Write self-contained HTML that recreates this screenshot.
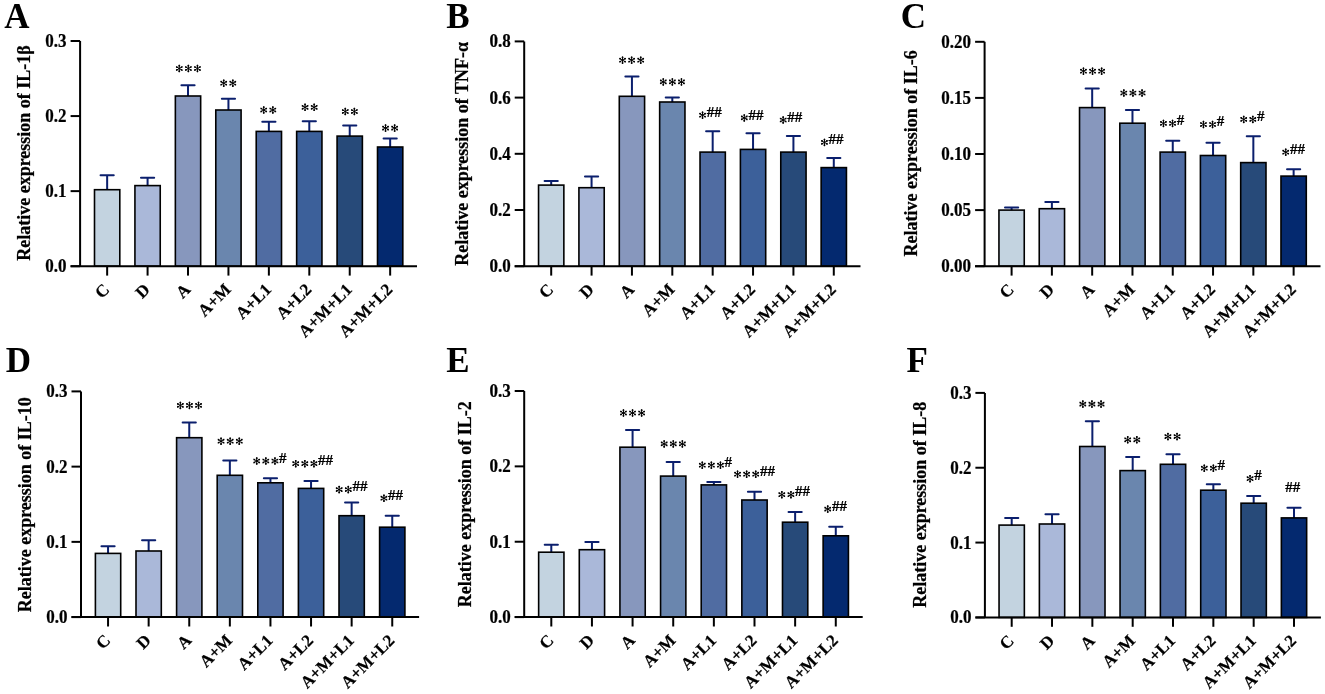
<!DOCTYPE html>
<html><head><meta charset="utf-8"><style>html,body{margin:0;padding:0;background:#fff;width:1325px;height:694px;overflow:hidden}svg{display:block;will-change:transform}text{stroke:#000;stroke-width:0.22px;paint-order:stroke}</style></head>
<body>
<svg width="1325" height="694" viewBox="0 0 1325 694">
<rect width="1325" height="694" fill="#fff"/>
<text x="4.2" y="27.6" font-family='"Liberation Serif", serif' font-weight="bold" font-size="35" style="stroke:none">A</text>
<path d="M107.15 189.70V175.20M100.55 175.20H113.75" stroke="#0b1f6d" stroke-width="2" stroke-linecap="round" fill="none"/>
<rect x="94.50" y="189.70" width="25.30" height="76.50" fill="#c3d3e0" stroke="#000" stroke-width="1.6"/>
<path d="M147.58 185.60V177.80M140.98 177.80H154.18" stroke="#0b1f6d" stroke-width="2" stroke-linecap="round" fill="none"/>
<rect x="134.93" y="185.60" width="25.30" height="80.60" fill="#aab8d9" stroke="#000" stroke-width="1.6"/>
<path d="M188.01 96.00V85.20M181.41 85.20H194.61" stroke="#0b1f6d" stroke-width="2" stroke-linecap="round" fill="none"/>
<rect x="175.36" y="96.00" width="25.30" height="170.20" fill="#8797bd" stroke="#000" stroke-width="1.6"/>
<path d="M228.44 110.00V98.70M221.84 98.70H235.04" stroke="#0b1f6d" stroke-width="2" stroke-linecap="round" fill="none"/>
<rect x="215.79" y="110.00" width="25.30" height="156.20" fill="#6a86ae" stroke="#000" stroke-width="1.6"/>
<path d="M268.87 131.40V121.80M262.27 121.80H275.47" stroke="#0b1f6d" stroke-width="2" stroke-linecap="round" fill="none"/>
<rect x="256.22" y="131.40" width="25.30" height="134.80" fill="#506ca2" stroke="#000" stroke-width="1.6"/>
<path d="M309.30 131.40V121.30M302.70 121.30H315.90" stroke="#0b1f6d" stroke-width="2" stroke-linecap="round" fill="none"/>
<rect x="296.65" y="131.40" width="25.30" height="134.80" fill="#3c609a" stroke="#000" stroke-width="1.6"/>
<path d="M349.73 136.10V125.40M343.13 125.40H356.33" stroke="#0b1f6d" stroke-width="2" stroke-linecap="round" fill="none"/>
<rect x="337.08" y="136.10" width="25.30" height="130.10" fill="#274a79" stroke="#000" stroke-width="1.6"/>
<path d="M390.16 147.00V138.40M383.56 138.40H396.76" stroke="#0b1f6d" stroke-width="2" stroke-linecap="round" fill="none"/>
<rect x="377.51" y="147.00" width="25.30" height="119.20" fill="#04296f" stroke="#000" stroke-width="1.6"/>
<path d="M80.1 41.0V266.2M70.6 266.2H417.00" stroke="#000" stroke-width="2" fill="none" stroke-linecap="butt"/>
<path d="M70.6 266.20H80.1" stroke="#000" stroke-width="2"/>
<text transform="translate(66.60 266.20) scale(1 1.08)" y="5.6" text-anchor="end" font-family='"Liberation Serif", serif' font-weight="bold" font-size="17">0.0</text>
<path d="M70.6 191.13H80.1" stroke="#000" stroke-width="2"/>
<text transform="translate(66.60 191.13) scale(1 1.08)" y="5.6" text-anchor="end" font-family='"Liberation Serif", serif' font-weight="bold" font-size="17">0.1</text>
<path d="M70.6 116.07H80.1" stroke="#000" stroke-width="2"/>
<text transform="translate(66.60 116.07) scale(1 1.08)" y="5.6" text-anchor="end" font-family='"Liberation Serif", serif' font-weight="bold" font-size="17">0.2</text>
<path d="M70.6 41.00H80.1" stroke="#000" stroke-width="2"/>
<text transform="translate(66.60 41.00) scale(1 1.08)" y="5.6" text-anchor="end" font-family='"Liberation Serif", serif' font-weight="bold" font-size="17">0.3</text>
<path d="M107.15 266.2V275.60" stroke="#000" stroke-width="2"/>
<text transform="translate(110.45 290.50) rotate(-45)" text-anchor="end" font-family='"Liberation Serif", serif' font-weight="bold" font-size="17">C</text>
<path d="M147.58 266.2V275.60" stroke="#000" stroke-width="2"/>
<text transform="translate(150.88 290.50) rotate(-45)" text-anchor="end" font-family='"Liberation Serif", serif' font-weight="bold" font-size="17">D</text>
<path d="M188.01 266.2V275.60" stroke="#000" stroke-width="2"/>
<text transform="translate(191.31 290.50) rotate(-45)" text-anchor="end" font-family='"Liberation Serif", serif' font-weight="bold" font-size="17">A</text>
<path d="M228.44 266.2V275.60" stroke="#000" stroke-width="2"/>
<text transform="translate(231.74 290.50) rotate(-45)" text-anchor="end" font-family='"Liberation Serif", serif' font-weight="bold" font-size="17">A+M</text>
<path d="M268.87 266.2V275.60" stroke="#000" stroke-width="2"/>
<text transform="translate(272.17 290.50) rotate(-45)" text-anchor="end" font-family='"Liberation Serif", serif' font-weight="bold" font-size="17">A+L1</text>
<path d="M309.30 266.2V275.60" stroke="#000" stroke-width="2"/>
<text transform="translate(312.60 290.50) rotate(-45)" text-anchor="end" font-family='"Liberation Serif", serif' font-weight="bold" font-size="17">A+L2</text>
<path d="M349.73 266.2V275.60" stroke="#000" stroke-width="2"/>
<text transform="translate(353.03 290.50) rotate(-45)" text-anchor="end" font-family='"Liberation Serif", serif' font-weight="bold" font-size="17">A+M+L1</text>
<path d="M390.16 266.2V275.60" stroke="#000" stroke-width="2"/>
<text transform="translate(393.46 290.50) rotate(-45)" text-anchor="end" font-family='"Liberation Serif", serif' font-weight="bold" font-size="17">A+M+L2</text>
<text transform="translate(30.00 260.80) rotate(-90)" font-family='"Liberation Serif", serif' font-weight="bold" font-size="18">Relative expression of IL-1β</text>
<text x="446.2" y="27.6" font-family='"Liberation Serif", serif' font-weight="bold" font-size="35" style="stroke:none">B</text>
<path d="M551.20 185.10V181.10M544.60 181.10H557.80" stroke="#0b1f6d" stroke-width="2" stroke-linecap="round" fill="none"/>
<rect x="538.55" y="185.10" width="25.30" height="81.10" fill="#c3d3e0" stroke="#000" stroke-width="1.6"/>
<path d="M591.57 187.70V176.60M584.97 176.60H598.17" stroke="#0b1f6d" stroke-width="2" stroke-linecap="round" fill="none"/>
<rect x="578.92" y="187.70" width="25.30" height="78.50" fill="#aab8d9" stroke="#000" stroke-width="1.6"/>
<path d="M631.94 96.30V76.50M625.34 76.50H638.54" stroke="#0b1f6d" stroke-width="2" stroke-linecap="round" fill="none"/>
<rect x="619.29" y="96.30" width="25.30" height="169.90" fill="#8797bd" stroke="#000" stroke-width="1.6"/>
<path d="M672.31 102.00V97.50M665.71 97.50H678.91" stroke="#0b1f6d" stroke-width="2" stroke-linecap="round" fill="none"/>
<rect x="659.66" y="102.00" width="25.30" height="164.20" fill="#6a86ae" stroke="#000" stroke-width="1.6"/>
<path d="M712.68 152.10V131.30M706.08 131.30H719.28" stroke="#0b1f6d" stroke-width="2" stroke-linecap="round" fill="none"/>
<rect x="700.03" y="152.10" width="25.30" height="114.10" fill="#506ca2" stroke="#000" stroke-width="1.6"/>
<path d="M753.05 149.40V133.30M746.45 133.30H759.65" stroke="#0b1f6d" stroke-width="2" stroke-linecap="round" fill="none"/>
<rect x="740.40" y="149.40" width="25.30" height="116.80" fill="#3c609a" stroke="#000" stroke-width="1.6"/>
<path d="M793.42 152.10V135.90M786.82 135.90H800.02" stroke="#0b1f6d" stroke-width="2" stroke-linecap="round" fill="none"/>
<rect x="780.77" y="152.10" width="25.30" height="114.10" fill="#274a79" stroke="#000" stroke-width="1.6"/>
<path d="M833.79 167.60V158.10M827.19 158.10H840.39" stroke="#0b1f6d" stroke-width="2" stroke-linecap="round" fill="none"/>
<rect x="821.14" y="167.60" width="25.30" height="98.60" fill="#04296f" stroke="#000" stroke-width="1.6"/>
<path d="M524.2 41.4V266.2M514.7 266.2H860.50" stroke="#000" stroke-width="2" fill="none" stroke-linecap="butt"/>
<path d="M514.7 266.20H524.2" stroke="#000" stroke-width="2"/>
<text transform="translate(510.70 266.20) scale(1 1.08)" y="5.6" text-anchor="end" font-family='"Liberation Serif", serif' font-weight="bold" font-size="17">0.0</text>
<path d="M514.7 210.00H524.2" stroke="#000" stroke-width="2"/>
<text transform="translate(510.70 210.00) scale(1 1.08)" y="5.6" text-anchor="end" font-family='"Liberation Serif", serif' font-weight="bold" font-size="17">0.2</text>
<path d="M514.7 153.80H524.2" stroke="#000" stroke-width="2"/>
<text transform="translate(510.70 153.80) scale(1 1.08)" y="5.6" text-anchor="end" font-family='"Liberation Serif", serif' font-weight="bold" font-size="17">0.4</text>
<path d="M514.7 97.60H524.2" stroke="#000" stroke-width="2"/>
<text transform="translate(510.70 97.60) scale(1 1.08)" y="5.6" text-anchor="end" font-family='"Liberation Serif", serif' font-weight="bold" font-size="17">0.6</text>
<path d="M514.7 41.40H524.2" stroke="#000" stroke-width="2"/>
<text transform="translate(510.70 41.40) scale(1 1.08)" y="5.6" text-anchor="end" font-family='"Liberation Serif", serif' font-weight="bold" font-size="17">0.8</text>
<path d="M551.20 266.2V275.60" stroke="#000" stroke-width="2"/>
<text transform="translate(554.50 290.50) rotate(-45)" text-anchor="end" font-family='"Liberation Serif", serif' font-weight="bold" font-size="17">C</text>
<path d="M591.57 266.2V275.60" stroke="#000" stroke-width="2"/>
<text transform="translate(594.87 290.50) rotate(-45)" text-anchor="end" font-family='"Liberation Serif", serif' font-weight="bold" font-size="17">D</text>
<path d="M631.94 266.2V275.60" stroke="#000" stroke-width="2"/>
<text transform="translate(635.24 290.50) rotate(-45)" text-anchor="end" font-family='"Liberation Serif", serif' font-weight="bold" font-size="17">A</text>
<path d="M672.31 266.2V275.60" stroke="#000" stroke-width="2"/>
<text transform="translate(675.61 290.50) rotate(-45)" text-anchor="end" font-family='"Liberation Serif", serif' font-weight="bold" font-size="17">A+M</text>
<path d="M712.68 266.2V275.60" stroke="#000" stroke-width="2"/>
<text transform="translate(715.98 290.50) rotate(-45)" text-anchor="end" font-family='"Liberation Serif", serif' font-weight="bold" font-size="17">A+L1</text>
<path d="M753.05 266.2V275.60" stroke="#000" stroke-width="2"/>
<text transform="translate(756.35 290.50) rotate(-45)" text-anchor="end" font-family='"Liberation Serif", serif' font-weight="bold" font-size="17">A+L2</text>
<path d="M793.42 266.2V275.60" stroke="#000" stroke-width="2"/>
<text transform="translate(796.72 290.50) rotate(-45)" text-anchor="end" font-family='"Liberation Serif", serif' font-weight="bold" font-size="17">A+M+L1</text>
<path d="M833.79 266.2V275.60" stroke="#000" stroke-width="2"/>
<text transform="translate(837.09 290.50) rotate(-45)" text-anchor="end" font-family='"Liberation Serif", serif' font-weight="bold" font-size="17">A+M+L2</text>
<text transform="translate(467.70 265.80) rotate(-90)" font-family='"Liberation Serif", serif' font-weight="bold" font-size="18">Relative expression of TNF-α</text>
<text x="706.70" y="116.80" font-family='"Liberation Serif", serif' font-weight="bold" font-size="15" stroke="#000" stroke-width="0.35">##</text>
<text x="748.40" y="119.50" font-family='"Liberation Serif", serif' font-weight="bold" font-size="15" stroke="#000" stroke-width="0.35">##</text>
<text x="787.30" y="121.60" font-family='"Liberation Serif", serif' font-weight="bold" font-size="15" stroke="#000" stroke-width="0.35">##</text>
<text x="828.60" y="144.00" font-family='"Liberation Serif", serif' font-weight="bold" font-size="15" stroke="#000" stroke-width="0.35">##</text>
<text x="900.8" y="27.6" font-family='"Liberation Serif", serif' font-weight="bold" font-size="35" style="stroke:none">C</text>
<path d="M1011.60 210.10V207.50M1005.00 207.50H1018.20" stroke="#0b1f6d" stroke-width="2" stroke-linecap="round" fill="none"/>
<rect x="998.95" y="210.10" width="25.30" height="56.10" fill="#c3d3e0" stroke="#000" stroke-width="1.6"/>
<path d="M1051.89 208.70V201.90M1045.29 201.90H1058.49" stroke="#0b1f6d" stroke-width="2" stroke-linecap="round" fill="none"/>
<rect x="1039.24" y="208.70" width="25.30" height="57.50" fill="#aab8d9" stroke="#000" stroke-width="1.6"/>
<path d="M1092.18 107.60V88.50M1085.58 88.50H1098.78" stroke="#0b1f6d" stroke-width="2" stroke-linecap="round" fill="none"/>
<rect x="1079.53" y="107.60" width="25.30" height="158.60" fill="#8797bd" stroke="#000" stroke-width="1.6"/>
<path d="M1132.47 123.20V109.90M1125.87 109.90H1139.07" stroke="#0b1f6d" stroke-width="2" stroke-linecap="round" fill="none"/>
<rect x="1119.82" y="123.20" width="25.30" height="143.00" fill="#6a86ae" stroke="#000" stroke-width="1.6"/>
<path d="M1172.76 152.10V140.80M1166.16 140.80H1179.36" stroke="#0b1f6d" stroke-width="2" stroke-linecap="round" fill="none"/>
<rect x="1160.11" y="152.10" width="25.30" height="114.10" fill="#506ca2" stroke="#000" stroke-width="1.6"/>
<path d="M1213.05 155.50V142.80M1206.45 142.80H1219.65" stroke="#0b1f6d" stroke-width="2" stroke-linecap="round" fill="none"/>
<rect x="1200.40" y="155.50" width="25.30" height="110.70" fill="#3c609a" stroke="#000" stroke-width="1.6"/>
<path d="M1253.34 162.60V136.30M1246.74 136.30H1259.94" stroke="#0b1f6d" stroke-width="2" stroke-linecap="round" fill="none"/>
<rect x="1240.69" y="162.60" width="25.30" height="103.60" fill="#274a79" stroke="#000" stroke-width="1.6"/>
<path d="M1293.63 176.10V169.20M1287.03 169.20H1300.23" stroke="#0b1f6d" stroke-width="2" stroke-linecap="round" fill="none"/>
<rect x="1280.98" y="176.10" width="25.30" height="90.10" fill="#04296f" stroke="#000" stroke-width="1.6"/>
<path d="M984.6 41.8V266.2M975.1 266.2H1320.50" stroke="#000" stroke-width="2" fill="none" stroke-linecap="butt"/>
<path d="M975.1 266.20H984.6" stroke="#000" stroke-width="2"/>
<text transform="translate(971.10 266.20) scale(1 1.08)" y="5.6" text-anchor="end" font-family='"Liberation Serif", serif' font-weight="bold" font-size="17">0.00</text>
<path d="M975.1 210.10H984.6" stroke="#000" stroke-width="2"/>
<text transform="translate(971.10 210.10) scale(1 1.08)" y="5.6" text-anchor="end" font-family='"Liberation Serif", serif' font-weight="bold" font-size="17">0.05</text>
<path d="M975.1 154.00H984.6" stroke="#000" stroke-width="2"/>
<text transform="translate(971.10 154.00) scale(1 1.08)" y="5.6" text-anchor="end" font-family='"Liberation Serif", serif' font-weight="bold" font-size="17">0.10</text>
<path d="M975.1 97.90H984.6" stroke="#000" stroke-width="2"/>
<text transform="translate(971.10 97.90) scale(1 1.08)" y="5.6" text-anchor="end" font-family='"Liberation Serif", serif' font-weight="bold" font-size="17">0.15</text>
<path d="M975.1 41.80H984.6" stroke="#000" stroke-width="2"/>
<text transform="translate(971.10 41.80) scale(1 1.08)" y="5.6" text-anchor="end" font-family='"Liberation Serif", serif' font-weight="bold" font-size="17">0.20</text>
<path d="M1011.60 266.2V275.60" stroke="#000" stroke-width="2"/>
<text transform="translate(1014.90 290.50) rotate(-45)" text-anchor="end" font-family='"Liberation Serif", serif' font-weight="bold" font-size="17">C</text>
<path d="M1051.89 266.2V275.60" stroke="#000" stroke-width="2"/>
<text transform="translate(1055.19 290.50) rotate(-45)" text-anchor="end" font-family='"Liberation Serif", serif' font-weight="bold" font-size="17">D</text>
<path d="M1092.18 266.2V275.60" stroke="#000" stroke-width="2"/>
<text transform="translate(1095.48 290.50) rotate(-45)" text-anchor="end" font-family='"Liberation Serif", serif' font-weight="bold" font-size="17">A</text>
<path d="M1132.47 266.2V275.60" stroke="#000" stroke-width="2"/>
<text transform="translate(1135.77 290.50) rotate(-45)" text-anchor="end" font-family='"Liberation Serif", serif' font-weight="bold" font-size="17">A+M</text>
<path d="M1172.76 266.2V275.60" stroke="#000" stroke-width="2"/>
<text transform="translate(1176.06 290.50) rotate(-45)" text-anchor="end" font-family='"Liberation Serif", serif' font-weight="bold" font-size="17">A+L1</text>
<path d="M1213.05 266.2V275.60" stroke="#000" stroke-width="2"/>
<text transform="translate(1216.35 290.50) rotate(-45)" text-anchor="end" font-family='"Liberation Serif", serif' font-weight="bold" font-size="17">A+L2</text>
<path d="M1253.34 266.2V275.60" stroke="#000" stroke-width="2"/>
<text transform="translate(1256.64 290.50) rotate(-45)" text-anchor="end" font-family='"Liberation Serif", serif' font-weight="bold" font-size="17">A+M+L1</text>
<path d="M1293.63 266.2V275.60" stroke="#000" stroke-width="2"/>
<text transform="translate(1296.93 290.50) rotate(-45)" text-anchor="end" font-family='"Liberation Serif", serif' font-weight="bold" font-size="17">A+M+L2</text>
<text transform="translate(917.00 256.50) rotate(-90)" font-family='"Liberation Serif", serif' font-weight="bold" font-size="18">Relative expression of IL-6</text>
<text x="1176.70" y="125.00" font-family='"Liberation Serif", serif' font-weight="bold" font-size="15" stroke="#000" stroke-width="0.35">#</text>
<text x="1216.70" y="126.10" font-family='"Liberation Serif", serif' font-weight="bold" font-size="15" stroke="#000" stroke-width="0.35">#</text>
<text x="1257.00" y="121.00" font-family='"Liberation Serif", serif' font-weight="bold" font-size="15" stroke="#000" stroke-width="0.35">#</text>
<text x="1289.90" y="153.80" font-family='"Liberation Serif", serif' font-weight="bold" font-size="15" stroke="#000" stroke-width="0.35">##</text>
<text x="5.8" y="372.0" font-family='"Liberation Serif", serif' font-weight="bold" font-size="35" style="stroke:none">D</text>
<path d="M108.05 553.40V546.20M101.45 546.20H114.65" stroke="#0b1f6d" stroke-width="2" stroke-linecap="round" fill="none"/>
<rect x="95.40" y="553.40" width="25.30" height="63.70" fill="#c3d3e0" stroke="#000" stroke-width="1.6"/>
<path d="M148.65 551.00V540.20M142.05 540.20H155.25" stroke="#0b1f6d" stroke-width="2" stroke-linecap="round" fill="none"/>
<rect x="136.00" y="551.00" width="25.30" height="66.10" fill="#aab8d9" stroke="#000" stroke-width="1.6"/>
<path d="M189.25 437.70V422.50M182.65 422.50H195.85" stroke="#0b1f6d" stroke-width="2" stroke-linecap="round" fill="none"/>
<rect x="176.60" y="437.70" width="25.30" height="179.40" fill="#8797bd" stroke="#000" stroke-width="1.6"/>
<path d="M229.85 475.30V460.40M223.25 460.40H236.45" stroke="#0b1f6d" stroke-width="2" stroke-linecap="round" fill="none"/>
<rect x="217.20" y="475.30" width="25.30" height="141.80" fill="#6a86ae" stroke="#000" stroke-width="1.6"/>
<path d="M270.45 482.80V478.30M263.85 478.30H277.05" stroke="#0b1f6d" stroke-width="2" stroke-linecap="round" fill="none"/>
<rect x="257.80" y="482.80" width="25.30" height="134.30" fill="#506ca2" stroke="#000" stroke-width="1.6"/>
<path d="M311.05 488.40V481.00M304.45 481.00H317.65" stroke="#0b1f6d" stroke-width="2" stroke-linecap="round" fill="none"/>
<rect x="298.40" y="488.40" width="25.30" height="128.70" fill="#3c609a" stroke="#000" stroke-width="1.6"/>
<path d="M351.65 515.70V502.60M345.05 502.60H358.25" stroke="#0b1f6d" stroke-width="2" stroke-linecap="round" fill="none"/>
<rect x="339.00" y="515.70" width="25.30" height="101.40" fill="#274a79" stroke="#000" stroke-width="1.6"/>
<path d="M392.25 527.20V515.70M385.65 515.70H398.85" stroke="#0b1f6d" stroke-width="2" stroke-linecap="round" fill="none"/>
<rect x="379.60" y="527.20" width="25.30" height="89.90" fill="#04296f" stroke="#000" stroke-width="1.6"/>
<path d="M81.0 391.4V617.1M71.5 617.1H419.10" stroke="#000" stroke-width="2" fill="none" stroke-linecap="butt"/>
<path d="M71.5 617.10H81.0" stroke="#000" stroke-width="2"/>
<text transform="translate(67.50 617.10) scale(1 1.08)" y="5.6" text-anchor="end" font-family='"Liberation Serif", serif' font-weight="bold" font-size="17">0.0</text>
<path d="M71.5 541.87H81.0" stroke="#000" stroke-width="2"/>
<text transform="translate(67.50 541.87) scale(1 1.08)" y="5.6" text-anchor="end" font-family='"Liberation Serif", serif' font-weight="bold" font-size="17">0.1</text>
<path d="M71.5 466.63H81.0" stroke="#000" stroke-width="2"/>
<text transform="translate(67.50 466.63) scale(1 1.08)" y="5.6" text-anchor="end" font-family='"Liberation Serif", serif' font-weight="bold" font-size="17">0.2</text>
<path d="M71.5 391.40H81.0" stroke="#000" stroke-width="2"/>
<text transform="translate(67.50 391.40) scale(1 1.08)" y="5.6" text-anchor="end" font-family='"Liberation Serif", serif' font-weight="bold" font-size="17">0.3</text>
<path d="M108.05 617.1V626.50" stroke="#000" stroke-width="2"/>
<text transform="translate(111.35 641.40) rotate(-45)" text-anchor="end" font-family='"Liberation Serif", serif' font-weight="bold" font-size="17">C</text>
<path d="M148.65 617.1V626.50" stroke="#000" stroke-width="2"/>
<text transform="translate(151.95 641.40) rotate(-45)" text-anchor="end" font-family='"Liberation Serif", serif' font-weight="bold" font-size="17">D</text>
<path d="M189.25 617.1V626.50" stroke="#000" stroke-width="2"/>
<text transform="translate(192.55 641.40) rotate(-45)" text-anchor="end" font-family='"Liberation Serif", serif' font-weight="bold" font-size="17">A</text>
<path d="M229.85 617.1V626.50" stroke="#000" stroke-width="2"/>
<text transform="translate(233.15 641.40) rotate(-45)" text-anchor="end" font-family='"Liberation Serif", serif' font-weight="bold" font-size="17">A+M</text>
<path d="M270.45 617.1V626.50" stroke="#000" stroke-width="2"/>
<text transform="translate(273.75 641.40) rotate(-45)" text-anchor="end" font-family='"Liberation Serif", serif' font-weight="bold" font-size="17">A+L1</text>
<path d="M311.05 617.1V626.50" stroke="#000" stroke-width="2"/>
<text transform="translate(314.35 641.40) rotate(-45)" text-anchor="end" font-family='"Liberation Serif", serif' font-weight="bold" font-size="17">A+L2</text>
<path d="M351.65 617.1V626.50" stroke="#000" stroke-width="2"/>
<text transform="translate(354.95 641.40) rotate(-45)" text-anchor="end" font-family='"Liberation Serif", serif' font-weight="bold" font-size="17">A+M+L1</text>
<path d="M392.25 617.1V626.50" stroke="#000" stroke-width="2"/>
<text transform="translate(395.55 641.40) rotate(-45)" text-anchor="end" font-family='"Liberation Serif", serif' font-weight="bold" font-size="17">A+M+L2</text>
<text transform="translate(31.30 612.30) rotate(-90)" font-family='"Liberation Serif", serif' font-weight="bold" font-size="18">Relative expression of IL-10</text>
<text x="279.10" y="462.60" font-family='"Liberation Serif", serif' font-weight="bold" font-size="15" stroke="#000" stroke-width="0.35">#</text>
<text x="318.10" y="465.30" font-family='"Liberation Serif", serif' font-weight="bold" font-size="15" stroke="#000" stroke-width="0.35">##</text>
<text x="352.40" y="491.20" font-family='"Liberation Serif", serif' font-weight="bold" font-size="15" stroke="#000" stroke-width="0.35">##</text>
<text x="388.10" y="499.80" font-family='"Liberation Serif", serif' font-weight="bold" font-size="15" stroke="#000" stroke-width="0.35">##</text>
<text x="446.2" y="372.0" font-family='"Liberation Serif", serif' font-weight="bold" font-size="35" style="stroke:none">E</text>
<path d="M551.30 552.20V544.70M544.70 544.70H557.90" stroke="#0b1f6d" stroke-width="2" stroke-linecap="round" fill="none"/>
<rect x="538.65" y="552.20" width="25.30" height="64.90" fill="#c3d3e0" stroke="#000" stroke-width="1.6"/>
<path d="M591.94 549.70V542.10M585.34 542.10H598.54" stroke="#0b1f6d" stroke-width="2" stroke-linecap="round" fill="none"/>
<rect x="579.29" y="549.70" width="25.30" height="67.40" fill="#aab8d9" stroke="#000" stroke-width="1.6"/>
<path d="M632.58 447.20V430.10M625.98 430.10H639.18" stroke="#0b1f6d" stroke-width="2" stroke-linecap="round" fill="none"/>
<rect x="619.93" y="447.20" width="25.30" height="169.90" fill="#8797bd" stroke="#000" stroke-width="1.6"/>
<path d="M673.22 476.10V462.00M666.62 462.00H679.82" stroke="#0b1f6d" stroke-width="2" stroke-linecap="round" fill="none"/>
<rect x="660.57" y="476.10" width="25.30" height="141.00" fill="#6a86ae" stroke="#000" stroke-width="1.6"/>
<path d="M713.86 484.90V481.90M707.26 481.90H720.46" stroke="#0b1f6d" stroke-width="2" stroke-linecap="round" fill="none"/>
<rect x="701.21" y="484.90" width="25.30" height="132.20" fill="#506ca2" stroke="#000" stroke-width="1.6"/>
<path d="M754.50 500.00V491.80M747.90 491.80H761.10" stroke="#0b1f6d" stroke-width="2" stroke-linecap="round" fill="none"/>
<rect x="741.85" y="500.00" width="25.30" height="117.10" fill="#3c609a" stroke="#000" stroke-width="1.6"/>
<path d="M795.14 522.20V511.90M788.54 511.90H801.74" stroke="#0b1f6d" stroke-width="2" stroke-linecap="round" fill="none"/>
<rect x="782.49" y="522.20" width="25.30" height="94.90" fill="#274a79" stroke="#000" stroke-width="1.6"/>
<path d="M835.78 535.80V526.70M829.18 526.70H842.38" stroke="#0b1f6d" stroke-width="2" stroke-linecap="round" fill="none"/>
<rect x="823.13" y="535.80" width="25.30" height="81.30" fill="#04296f" stroke="#000" stroke-width="1.6"/>
<path d="M524.2 391.0V617.1M514.7 617.1H862.70" stroke="#000" stroke-width="2" fill="none" stroke-linecap="butt"/>
<path d="M514.7 617.10H524.2" stroke="#000" stroke-width="2"/>
<text transform="translate(510.70 617.10) scale(1 1.08)" y="5.6" text-anchor="end" font-family='"Liberation Serif", serif' font-weight="bold" font-size="17">0.0</text>
<path d="M514.7 541.73H524.2" stroke="#000" stroke-width="2"/>
<text transform="translate(510.70 541.73) scale(1 1.08)" y="5.6" text-anchor="end" font-family='"Liberation Serif", serif' font-weight="bold" font-size="17">0.1</text>
<path d="M514.7 466.37H524.2" stroke="#000" stroke-width="2"/>
<text transform="translate(510.70 466.37) scale(1 1.08)" y="5.6" text-anchor="end" font-family='"Liberation Serif", serif' font-weight="bold" font-size="17">0.2</text>
<path d="M514.7 391.00H524.2" stroke="#000" stroke-width="2"/>
<text transform="translate(510.70 391.00) scale(1 1.08)" y="5.6" text-anchor="end" font-family='"Liberation Serif", serif' font-weight="bold" font-size="17">0.3</text>
<path d="M551.30 617.1V626.50" stroke="#000" stroke-width="2"/>
<text transform="translate(554.60 641.40) rotate(-45)" text-anchor="end" font-family='"Liberation Serif", serif' font-weight="bold" font-size="17">C</text>
<path d="M591.94 617.1V626.50" stroke="#000" stroke-width="2"/>
<text transform="translate(595.24 641.40) rotate(-45)" text-anchor="end" font-family='"Liberation Serif", serif' font-weight="bold" font-size="17">D</text>
<path d="M632.58 617.1V626.50" stroke="#000" stroke-width="2"/>
<text transform="translate(635.88 641.40) rotate(-45)" text-anchor="end" font-family='"Liberation Serif", serif' font-weight="bold" font-size="17">A</text>
<path d="M673.22 617.1V626.50" stroke="#000" stroke-width="2"/>
<text transform="translate(676.52 641.40) rotate(-45)" text-anchor="end" font-family='"Liberation Serif", serif' font-weight="bold" font-size="17">A+M</text>
<path d="M713.86 617.1V626.50" stroke="#000" stroke-width="2"/>
<text transform="translate(717.16 641.40) rotate(-45)" text-anchor="end" font-family='"Liberation Serif", serif' font-weight="bold" font-size="17">A+L1</text>
<path d="M754.50 617.1V626.50" stroke="#000" stroke-width="2"/>
<text transform="translate(757.80 641.40) rotate(-45)" text-anchor="end" font-family='"Liberation Serif", serif' font-weight="bold" font-size="17">A+L2</text>
<path d="M795.14 617.1V626.50" stroke="#000" stroke-width="2"/>
<text transform="translate(798.44 641.40) rotate(-45)" text-anchor="end" font-family='"Liberation Serif", serif' font-weight="bold" font-size="17">A+M+L1</text>
<path d="M835.78 617.1V626.50" stroke="#000" stroke-width="2"/>
<text transform="translate(839.08 641.40) rotate(-45)" text-anchor="end" font-family='"Liberation Serif", serif' font-weight="bold" font-size="17">A+M+L2</text>
<text transform="translate(471.40 607.30) rotate(-90)" font-family='"Liberation Serif", serif' font-weight="bold" font-size="18">Relative expression of IL-2</text>
<text x="724.60" y="466.80" font-family='"Liberation Serif", serif' font-weight="bold" font-size="15" stroke="#000" stroke-width="0.35">#</text>
<text x="759.90" y="475.80" font-family='"Liberation Serif", serif' font-weight="bold" font-size="15" stroke="#000" stroke-width="0.35">##</text>
<text x="795.10" y="496.30" font-family='"Liberation Serif", serif' font-weight="bold" font-size="15" stroke="#000" stroke-width="0.35">##</text>
<text x="831.90" y="510.70" font-family='"Liberation Serif", serif' font-weight="bold" font-size="15" stroke="#000" stroke-width="0.35">##</text>
<text x="906.6" y="372.0" font-family='"Liberation Serif", serif' font-weight="bold" font-size="35" style="stroke:none">F</text>
<path d="M1011.70 525.10V517.90M1005.10 517.90H1018.30" stroke="#0b1f6d" stroke-width="2" stroke-linecap="round" fill="none"/>
<rect x="999.05" y="525.10" width="25.30" height="92.30" fill="#c3d3e0" stroke="#000" stroke-width="1.6"/>
<path d="M1052.03 524.00V514.30M1045.43 514.30H1058.63" stroke="#0b1f6d" stroke-width="2" stroke-linecap="round" fill="none"/>
<rect x="1039.38" y="524.00" width="25.30" height="93.40" fill="#aab8d9" stroke="#000" stroke-width="1.6"/>
<path d="M1092.36 446.50V421.20M1085.76 421.20H1098.96" stroke="#0b1f6d" stroke-width="2" stroke-linecap="round" fill="none"/>
<rect x="1079.71" y="446.50" width="25.30" height="170.90" fill="#8797bd" stroke="#000" stroke-width="1.6"/>
<path d="M1132.69 470.60V457.00M1126.09 457.00H1139.29" stroke="#0b1f6d" stroke-width="2" stroke-linecap="round" fill="none"/>
<rect x="1120.04" y="470.60" width="25.30" height="146.80" fill="#6a86ae" stroke="#000" stroke-width="1.6"/>
<path d="M1173.02 464.30V454.30M1166.42 454.30H1179.62" stroke="#0b1f6d" stroke-width="2" stroke-linecap="round" fill="none"/>
<rect x="1160.37" y="464.30" width="25.30" height="153.10" fill="#506ca2" stroke="#000" stroke-width="1.6"/>
<path d="M1213.35 490.20V484.20M1206.75 484.20H1219.95" stroke="#0b1f6d" stroke-width="2" stroke-linecap="round" fill="none"/>
<rect x="1200.70" y="490.20" width="25.30" height="127.20" fill="#3c609a" stroke="#000" stroke-width="1.6"/>
<path d="M1253.68 503.20V496.00M1247.08 496.00H1260.28" stroke="#0b1f6d" stroke-width="2" stroke-linecap="round" fill="none"/>
<rect x="1241.03" y="503.20" width="25.30" height="114.20" fill="#274a79" stroke="#000" stroke-width="1.6"/>
<path d="M1294.01 517.90V507.80M1287.41 507.80H1300.61" stroke="#0b1f6d" stroke-width="2" stroke-linecap="round" fill="none"/>
<rect x="1281.36" y="517.90" width="25.30" height="99.50" fill="#04296f" stroke="#000" stroke-width="1.6"/>
<path d="M984.9 392.9V617.4M975.4 617.4H1320.90" stroke="#000" stroke-width="2" fill="none" stroke-linecap="butt"/>
<path d="M975.4 617.40H984.9" stroke="#000" stroke-width="2"/>
<text transform="translate(971.40 617.40) scale(1 1.08)" y="5.6" text-anchor="end" font-family='"Liberation Serif", serif' font-weight="bold" font-size="17">0.0</text>
<path d="M975.4 542.57H984.9" stroke="#000" stroke-width="2"/>
<text transform="translate(971.40 542.57) scale(1 1.08)" y="5.6" text-anchor="end" font-family='"Liberation Serif", serif' font-weight="bold" font-size="17">0.1</text>
<path d="M975.4 467.73H984.9" stroke="#000" stroke-width="2"/>
<text transform="translate(971.40 467.73) scale(1 1.08)" y="5.6" text-anchor="end" font-family='"Liberation Serif", serif' font-weight="bold" font-size="17">0.2</text>
<path d="M975.4 392.90H984.9" stroke="#000" stroke-width="2"/>
<text transform="translate(971.40 392.90) scale(1 1.08)" y="5.6" text-anchor="end" font-family='"Liberation Serif", serif' font-weight="bold" font-size="17">0.3</text>
<path d="M1011.70 617.4V626.80" stroke="#000" stroke-width="2"/>
<text transform="translate(1015.00 641.70) rotate(-45)" text-anchor="end" font-family='"Liberation Serif", serif' font-weight="bold" font-size="17">C</text>
<path d="M1052.03 617.4V626.80" stroke="#000" stroke-width="2"/>
<text transform="translate(1055.33 641.70) rotate(-45)" text-anchor="end" font-family='"Liberation Serif", serif' font-weight="bold" font-size="17">D</text>
<path d="M1092.36 617.4V626.80" stroke="#000" stroke-width="2"/>
<text transform="translate(1095.66 641.70) rotate(-45)" text-anchor="end" font-family='"Liberation Serif", serif' font-weight="bold" font-size="17">A</text>
<path d="M1132.69 617.4V626.80" stroke="#000" stroke-width="2"/>
<text transform="translate(1135.99 641.70) rotate(-45)" text-anchor="end" font-family='"Liberation Serif", serif' font-weight="bold" font-size="17">A+M</text>
<path d="M1173.02 617.4V626.80" stroke="#000" stroke-width="2"/>
<text transform="translate(1176.32 641.70) rotate(-45)" text-anchor="end" font-family='"Liberation Serif", serif' font-weight="bold" font-size="17">A+L1</text>
<path d="M1213.35 617.4V626.80" stroke="#000" stroke-width="2"/>
<text transform="translate(1216.65 641.70) rotate(-45)" text-anchor="end" font-family='"Liberation Serif", serif' font-weight="bold" font-size="17">A+L2</text>
<path d="M1253.68 617.4V626.80" stroke="#000" stroke-width="2"/>
<text transform="translate(1256.98 641.70) rotate(-45)" text-anchor="end" font-family='"Liberation Serif", serif' font-weight="bold" font-size="17">A+M+L1</text>
<path d="M1294.01 617.4V626.80" stroke="#000" stroke-width="2"/>
<text transform="translate(1297.31 641.70) rotate(-45)" text-anchor="end" font-family='"Liberation Serif", serif' font-weight="bold" font-size="17">A+M+L2</text>
<text transform="translate(926.30 607.80) rotate(-90)" font-family='"Liberation Serif", serif' font-weight="bold" font-size="18">Relative expression of IL-8</text>
<text x="1217.50" y="469.80" font-family='"Liberation Serif", serif' font-weight="bold" font-size="15" stroke="#000" stroke-width="0.35">#</text>
<text x="1254.20" y="480.30" font-family='"Liberation Serif", serif' font-weight="bold" font-size="15" stroke="#000" stroke-width="0.35">#</text>
<text x="1285.30" y="492.40" font-family='"Liberation Serif", serif' font-weight="bold" font-size="15" stroke="#000" stroke-width="0.35">##</text>
<path d="M179.25 68.50L179.25 65.20M179.25 68.50L176.39 66.85M179.25 68.50L176.39 70.15M179.25 68.50L179.25 71.80M179.25 68.50L182.11 70.15M179.25 68.50L182.11 66.85M188.35 68.50L188.35 65.20M188.35 68.50L185.49 66.85M188.35 68.50L185.49 70.15M188.35 68.50L188.35 71.80M188.35 68.50L191.21 70.15M188.35 68.50L191.21 66.85M197.45 68.50L197.45 65.20M197.45 68.50L194.59 66.85M197.45 68.50L194.59 70.15M197.45 68.50L197.45 71.80M197.45 68.50L200.31 70.15M197.45 68.50L200.31 66.85M223.75 83.20L223.75 79.90M223.75 83.20L220.89 81.55M223.75 83.20L220.89 84.85M223.75 83.20L223.75 86.50M223.75 83.20L226.61 84.85M223.75 83.20L226.61 81.55M232.85 83.20L232.85 79.90M232.85 83.20L229.99 81.55M232.85 83.20L229.99 84.85M232.85 83.20L232.85 86.50M232.85 83.20L235.71 84.85M232.85 83.20L235.71 81.55M263.75 110.00L263.75 106.70M263.75 110.00L260.89 108.35M263.75 110.00L260.89 111.65M263.75 110.00L263.75 113.30M263.75 110.00L266.61 111.65M263.75 110.00L266.61 108.35M272.85 110.00L272.85 106.70M272.85 110.00L269.99 108.35M272.85 110.00L269.99 111.65M272.85 110.00L272.85 113.30M272.85 110.00L275.71 111.65M272.85 110.00L275.71 108.35M305.05 107.30L305.05 104.00M305.05 107.30L302.19 105.65M305.05 107.30L302.19 108.95M305.05 107.30L305.05 110.60M305.05 107.30L307.91 108.95M305.05 107.30L307.91 105.65M314.15 107.30L314.15 104.00M314.15 107.30L311.29 105.65M314.15 107.30L311.29 108.95M314.15 107.30L314.15 110.60M314.15 107.30L317.01 108.95M314.15 107.30L317.01 105.65M345.25 111.50L345.25 108.20M345.25 111.50L342.39 109.85M345.25 111.50L342.39 113.15M345.25 111.50L345.25 114.80M345.25 111.50L348.11 113.15M345.25 111.50L348.11 109.85M354.35 111.50L354.35 108.20M354.35 111.50L351.49 109.85M354.35 111.50L351.49 113.15M354.35 111.50L354.35 114.80M354.35 111.50L357.21 113.15M354.35 111.50L357.21 109.85M385.55 128.10L385.55 124.80M385.55 128.10L382.69 126.45M385.55 128.10L382.69 129.75M385.55 128.10L385.55 131.40M385.55 128.10L388.41 129.75M385.55 128.10L388.41 126.45M394.65 128.10L394.65 124.80M394.65 128.10L391.79 126.45M394.65 128.10L391.79 129.75M394.65 128.10L394.65 131.40M394.65 128.10L397.51 129.75M394.65 128.10L397.51 126.45M622.55 60.20L622.55 56.90M622.55 60.20L619.69 58.55M622.55 60.20L619.69 61.85M622.55 60.20L622.55 63.50M622.55 60.20L625.41 61.85M622.55 60.20L625.41 58.55M631.65 60.20L631.65 56.90M631.65 60.20L628.79 58.55M631.65 60.20L628.79 61.85M631.65 60.20L631.65 63.50M631.65 60.20L634.51 61.85M631.65 60.20L634.51 58.55M640.75 60.20L640.75 56.90M640.75 60.20L637.89 58.55M640.75 60.20L637.89 61.85M640.75 60.20L640.75 63.50M640.75 60.20L643.61 61.85M640.75 60.20L643.61 58.55M663.25 81.90L663.25 78.60M663.25 81.90L660.39 80.25M663.25 81.90L660.39 83.55M663.25 81.90L663.25 85.20M663.25 81.90L666.11 83.55M663.25 81.90L666.11 80.25M672.35 81.90L672.35 78.60M672.35 81.90L669.49 80.25M672.35 81.90L669.49 83.55M672.35 81.90L672.35 85.20M672.35 81.90L675.21 83.55M672.35 81.90L675.21 80.25M681.45 81.90L681.45 78.60M681.45 81.90L678.59 80.25M681.45 81.90L678.59 83.55M681.45 81.90L681.45 85.20M681.45 81.90L684.31 83.55M681.45 81.90L684.31 80.25M702.55 115.20L702.55 111.90M702.55 115.20L699.69 113.55M702.55 115.20L699.69 116.85M702.55 115.20L702.55 118.50M702.55 115.20L705.41 116.85M702.55 115.20L705.41 113.55M744.25 117.90L744.25 114.60M744.25 117.90L741.39 116.25M744.25 117.90L741.39 119.55M744.25 117.90L744.25 121.20M744.25 117.90L747.11 119.55M744.25 117.90L747.11 116.25M783.15 120.00L783.15 116.70M783.15 120.00L780.29 118.35M783.15 120.00L780.29 121.65M783.15 120.00L783.15 123.30M783.15 120.00L786.01 121.65M783.15 120.00L786.01 118.35M824.45 142.40L824.45 139.10M824.45 142.40L821.59 140.75M824.45 142.40L821.59 144.05M824.45 142.40L824.45 145.70M824.45 142.40L827.31 144.05M824.45 142.40L827.31 140.75M1083.45 71.20L1083.45 67.90M1083.45 71.20L1080.59 69.55M1083.45 71.20L1080.59 72.85M1083.45 71.20L1083.45 74.50M1083.45 71.20L1086.31 72.85M1083.45 71.20L1086.31 69.55M1092.55 71.20L1092.55 67.90M1092.55 71.20L1089.69 69.55M1092.55 71.20L1089.69 72.85M1092.55 71.20L1092.55 74.50M1092.55 71.20L1095.41 72.85M1092.55 71.20L1095.41 69.55M1101.65 71.20L1101.65 67.90M1101.65 71.20L1098.79 69.55M1101.65 71.20L1098.79 72.85M1101.65 71.20L1101.65 74.50M1101.65 71.20L1104.51 72.85M1101.65 71.20L1104.51 69.55M1123.85 93.00L1123.85 89.70M1123.85 93.00L1120.99 91.35M1123.85 93.00L1120.99 94.65M1123.85 93.00L1123.85 96.30M1123.85 93.00L1126.71 94.65M1123.85 93.00L1126.71 91.35M1132.95 93.00L1132.95 89.70M1132.95 93.00L1130.09 91.35M1132.95 93.00L1130.09 94.65M1132.95 93.00L1132.95 96.30M1132.95 93.00L1135.81 94.65M1132.95 93.00L1135.81 91.35M1142.05 93.00L1142.05 89.70M1142.05 93.00L1139.19 91.35M1142.05 93.00L1139.19 94.65M1142.05 93.00L1142.05 96.30M1142.05 93.00L1144.91 94.65M1142.05 93.00L1144.91 91.35M1163.45 123.40L1163.45 120.10M1163.45 123.40L1160.59 121.75M1163.45 123.40L1160.59 125.05M1163.45 123.40L1163.45 126.70M1163.45 123.40L1166.31 125.05M1163.45 123.40L1166.31 121.75M1172.55 123.40L1172.55 120.10M1172.55 123.40L1169.69 121.75M1172.55 123.40L1169.69 125.05M1172.55 123.40L1172.55 126.70M1172.55 123.40L1175.41 125.05M1172.55 123.40L1175.41 121.75M1203.45 124.50L1203.45 121.20M1203.45 124.50L1200.59 122.85M1203.45 124.50L1200.59 126.15M1203.45 124.50L1203.45 127.80M1203.45 124.50L1206.31 126.15M1203.45 124.50L1206.31 122.85M1212.55 124.50L1212.55 121.20M1212.55 124.50L1209.69 122.85M1212.55 124.50L1209.69 126.15M1212.55 124.50L1212.55 127.80M1212.55 124.50L1215.41 126.15M1212.55 124.50L1215.41 122.85M1243.75 119.40L1243.75 116.10M1243.75 119.40L1240.89 117.75M1243.75 119.40L1240.89 121.05M1243.75 119.40L1243.75 122.70M1243.75 119.40L1246.61 121.05M1243.75 119.40L1246.61 117.75M1252.85 119.40L1252.85 116.10M1252.85 119.40L1249.99 117.75M1252.85 119.40L1249.99 121.05M1252.85 119.40L1252.85 122.70M1252.85 119.40L1255.71 121.05M1252.85 119.40L1255.71 117.75M1285.75 152.20L1285.75 148.90M1285.75 152.20L1282.89 150.55M1285.75 152.20L1282.89 153.85M1285.75 152.20L1285.75 155.50M1285.75 152.20L1288.61 153.85M1285.75 152.20L1288.61 150.55M180.35 405.40L180.35 402.10M180.35 405.40L177.49 403.75M180.35 405.40L177.49 407.05M180.35 405.40L180.35 408.70M180.35 405.40L183.21 407.05M180.35 405.40L183.21 403.75M189.45 405.40L189.45 402.10M189.45 405.40L186.59 403.75M189.45 405.40L186.59 407.05M189.45 405.40L189.45 408.70M189.45 405.40L192.31 407.05M189.45 405.40L192.31 403.75M198.55 405.40L198.55 402.10M198.55 405.40L195.69 403.75M198.55 405.40L195.69 407.05M198.55 405.40L198.55 408.70M198.55 405.40L201.41 407.05M198.55 405.40L201.41 403.75M221.05 441.20L221.05 437.90M221.05 441.20L218.19 439.55M221.05 441.20L218.19 442.85M221.05 441.20L221.05 444.50M221.05 441.20L223.91 442.85M221.05 441.20L223.91 439.55M230.15 441.20L230.15 437.90M230.15 441.20L227.29 439.55M230.15 441.20L227.29 442.85M230.15 441.20L230.15 444.50M230.15 441.20L233.01 442.85M230.15 441.20L233.01 439.55M239.25 441.20L239.25 437.90M239.25 441.20L236.39 439.55M239.25 441.20L236.39 442.85M239.25 441.20L239.25 444.50M239.25 441.20L242.11 442.85M239.25 441.20L242.11 439.55M256.75 461.00L256.75 457.70M256.75 461.00L253.89 459.35M256.75 461.00L253.89 462.65M256.75 461.00L256.75 464.30M256.75 461.00L259.61 462.65M256.75 461.00L259.61 459.35M265.85 461.00L265.85 457.70M265.85 461.00L262.99 459.35M265.85 461.00L262.99 462.65M265.85 461.00L265.85 464.30M265.85 461.00L268.71 462.65M265.85 461.00L268.71 459.35M274.95 461.00L274.95 457.70M274.95 461.00L272.09 459.35M274.95 461.00L272.09 462.65M274.95 461.00L274.95 464.30M274.95 461.00L277.81 462.65M274.95 461.00L277.81 459.35M295.75 463.70L295.75 460.40M295.75 463.70L292.89 462.05M295.75 463.70L292.89 465.35M295.75 463.70L295.75 467.00M295.75 463.70L298.61 465.35M295.75 463.70L298.61 462.05M304.85 463.70L304.85 460.40M304.85 463.70L301.99 462.05M304.85 463.70L301.99 465.35M304.85 463.70L304.85 467.00M304.85 463.70L307.71 465.35M304.85 463.70L307.71 462.05M313.95 463.70L313.95 460.40M313.95 463.70L311.09 462.05M313.95 463.70L311.09 465.35M313.95 463.70L313.95 467.00M313.95 463.70L316.81 465.35M313.95 463.70L316.81 462.05M339.15 489.60L339.15 486.30M339.15 489.60L336.29 487.95M339.15 489.60L336.29 491.25M339.15 489.60L339.15 492.90M339.15 489.60L342.01 491.25M339.15 489.60L342.01 487.95M348.25 489.60L348.25 486.30M348.25 489.60L345.39 487.95M348.25 489.60L345.39 491.25M348.25 489.60L348.25 492.90M348.25 489.60L351.11 491.25M348.25 489.60L351.11 487.95M383.95 498.20L383.95 494.90M383.95 498.20L381.09 496.55M383.95 498.20L381.09 499.85M383.95 498.20L383.95 501.50M383.95 498.20L386.81 499.85M383.95 498.20L386.81 496.55M623.45 413.00L623.45 409.70M623.45 413.00L620.59 411.35M623.45 413.00L620.59 414.65M623.45 413.00L623.45 416.30M623.45 413.00L626.31 414.65M623.45 413.00L626.31 411.35M632.55 413.00L632.55 409.70M632.55 413.00L629.69 411.35M632.55 413.00L629.69 414.65M632.55 413.00L632.55 416.30M632.55 413.00L635.41 414.65M632.55 413.00L635.41 411.35M641.65 413.00L641.65 409.70M641.65 413.00L638.79 411.35M641.65 413.00L638.79 414.65M641.65 413.00L641.65 416.30M641.65 413.00L644.51 414.65M641.65 413.00L644.51 411.35M664.15 443.90L664.15 440.60M664.15 443.90L661.29 442.25M664.15 443.90L661.29 445.55M664.15 443.90L664.15 447.20M664.15 443.90L667.01 445.55M664.15 443.90L667.01 442.25M673.25 443.90L673.25 440.60M673.25 443.90L670.39 442.25M673.25 443.90L670.39 445.55M673.25 443.90L673.25 447.20M673.25 443.90L676.11 445.55M673.25 443.90L676.11 442.25M682.35 443.90L682.35 440.60M682.35 443.90L679.49 442.25M682.35 443.90L679.49 445.55M682.35 443.90L682.35 447.20M682.35 443.90L685.21 445.55M682.35 443.90L685.21 442.25M702.25 465.20L702.25 461.90M702.25 465.20L699.39 463.55M702.25 465.20L699.39 466.85M702.25 465.20L702.25 468.50M702.25 465.20L705.11 466.85M702.25 465.20L705.11 463.55M711.35 465.20L711.35 461.90M711.35 465.20L708.49 463.55M711.35 465.20L708.49 466.85M711.35 465.20L711.35 468.50M711.35 465.20L714.21 466.85M711.35 465.20L714.21 463.55M720.45 465.20L720.45 461.90M720.45 465.20L717.59 463.55M720.45 465.20L717.59 466.85M720.45 465.20L720.45 468.50M720.45 465.20L723.31 466.85M720.45 465.20L723.31 463.55M737.55 474.20L737.55 470.90M737.55 474.20L734.69 472.55M737.55 474.20L734.69 475.85M737.55 474.20L737.55 477.50M737.55 474.20L740.41 475.85M737.55 474.20L740.41 472.55M746.65 474.20L746.65 470.90M746.65 474.20L743.79 472.55M746.65 474.20L743.79 475.85M746.65 474.20L746.65 477.50M746.65 474.20L749.51 475.85M746.65 474.20L749.51 472.55M755.75 474.20L755.75 470.90M755.75 474.20L752.89 472.55M755.75 474.20L752.89 475.85M755.75 474.20L755.75 477.50M755.75 474.20L758.61 475.85M755.75 474.20L758.61 472.55M781.85 494.70L781.85 491.40M781.85 494.70L778.99 493.05M781.85 494.70L778.99 496.35M781.85 494.70L781.85 498.00M781.85 494.70L784.71 496.35M781.85 494.70L784.71 493.05M790.95 494.70L790.95 491.40M790.95 494.70L788.09 493.05M790.95 494.70L788.09 496.35M790.95 494.70L790.95 498.00M790.95 494.70L793.81 496.35M790.95 494.70L793.81 493.05M827.75 509.10L827.75 505.80M827.75 509.10L824.89 507.45M827.75 509.10L824.89 510.75M827.75 509.10L827.75 512.40M827.75 509.10L830.61 510.75M827.75 509.10L830.61 507.45M1082.85 404.10L1082.85 400.80M1082.85 404.10L1079.99 402.45M1082.85 404.10L1079.99 405.75M1082.85 404.10L1082.85 407.40M1082.85 404.10L1085.71 405.75M1082.85 404.10L1085.71 402.45M1091.95 404.10L1091.95 400.80M1091.95 404.10L1089.09 402.45M1091.95 404.10L1089.09 405.75M1091.95 404.10L1091.95 407.40M1091.95 404.10L1094.81 405.75M1091.95 404.10L1094.81 402.45M1101.05 404.10L1101.05 400.80M1101.05 404.10L1098.19 402.45M1101.05 404.10L1098.19 405.75M1101.05 404.10L1101.05 407.40M1101.05 404.10L1103.91 405.75M1101.05 404.10L1103.91 402.45M1127.75 439.80L1127.75 436.50M1127.75 439.80L1124.89 438.15M1127.75 439.80L1124.89 441.45M1127.75 439.80L1127.75 443.10M1127.75 439.80L1130.61 441.45M1127.75 439.80L1130.61 438.15M1136.85 439.80L1136.85 436.50M1136.85 439.80L1133.99 438.15M1136.85 439.80L1133.99 441.45M1136.85 439.80L1136.85 443.10M1136.85 439.80L1139.71 441.45M1136.85 439.80L1139.71 438.15M1167.95 436.60L1167.95 433.30M1167.95 436.60L1165.09 434.95M1167.95 436.60L1165.09 438.25M1167.95 436.60L1167.95 439.90M1167.95 436.60L1170.81 438.25M1167.95 436.60L1170.81 434.95M1177.05 436.60L1177.05 433.30M1177.05 436.60L1174.19 434.95M1177.05 436.60L1174.19 438.25M1177.05 436.60L1177.05 439.90M1177.05 436.60L1179.91 438.25M1177.05 436.60L1179.91 434.95M1204.25 468.20L1204.25 464.90M1204.25 468.20L1201.39 466.55M1204.25 468.20L1201.39 469.85M1204.25 468.20L1204.25 471.50M1204.25 468.20L1207.11 469.85M1204.25 468.20L1207.11 466.55M1213.35 468.20L1213.35 464.90M1213.35 468.20L1210.49 466.55M1213.35 468.20L1210.49 469.85M1213.35 468.20L1213.35 471.50M1213.35 468.20L1216.21 469.85M1213.35 468.20L1216.21 466.55M1250.05 478.70L1250.05 475.40M1250.05 478.70L1247.19 477.05M1250.05 478.70L1247.19 480.35M1250.05 478.70L1250.05 482.00M1250.05 478.70L1252.91 480.35M1250.05 478.70L1252.91 477.05" stroke="#000" stroke-width="1.0" stroke-linecap="round" fill="none"/>
<g fill="#000"><circle cx="179.25" cy="65.70" r="0.95"/><circle cx="176.83" cy="67.10" r="0.95"/><circle cx="176.83" cy="69.90" r="0.95"/><circle cx="179.25" cy="71.30" r="0.95"/><circle cx="181.67" cy="69.90" r="0.95"/><circle cx="181.67" cy="67.10" r="0.95"/><circle cx="188.35" cy="65.70" r="0.95"/><circle cx="185.93" cy="67.10" r="0.95"/><circle cx="185.93" cy="69.90" r="0.95"/><circle cx="188.35" cy="71.30" r="0.95"/><circle cx="190.77" cy="69.90" r="0.95"/><circle cx="190.77" cy="67.10" r="0.95"/><circle cx="197.45" cy="65.70" r="0.95"/><circle cx="195.03" cy="67.10" r="0.95"/><circle cx="195.03" cy="69.90" r="0.95"/><circle cx="197.45" cy="71.30" r="0.95"/><circle cx="199.87" cy="69.90" r="0.95"/><circle cx="199.87" cy="67.10" r="0.95"/><circle cx="223.75" cy="80.40" r="0.95"/><circle cx="221.33" cy="81.80" r="0.95"/><circle cx="221.33" cy="84.60" r="0.95"/><circle cx="223.75" cy="86.00" r="0.95"/><circle cx="226.17" cy="84.60" r="0.95"/><circle cx="226.17" cy="81.80" r="0.95"/><circle cx="232.85" cy="80.40" r="0.95"/><circle cx="230.43" cy="81.80" r="0.95"/><circle cx="230.43" cy="84.60" r="0.95"/><circle cx="232.85" cy="86.00" r="0.95"/><circle cx="235.27" cy="84.60" r="0.95"/><circle cx="235.27" cy="81.80" r="0.95"/><circle cx="263.75" cy="107.20" r="0.95"/><circle cx="261.33" cy="108.60" r="0.95"/><circle cx="261.33" cy="111.40" r="0.95"/><circle cx="263.75" cy="112.80" r="0.95"/><circle cx="266.17" cy="111.40" r="0.95"/><circle cx="266.17" cy="108.60" r="0.95"/><circle cx="272.85" cy="107.20" r="0.95"/><circle cx="270.43" cy="108.60" r="0.95"/><circle cx="270.43" cy="111.40" r="0.95"/><circle cx="272.85" cy="112.80" r="0.95"/><circle cx="275.27" cy="111.40" r="0.95"/><circle cx="275.27" cy="108.60" r="0.95"/><circle cx="305.05" cy="104.50" r="0.95"/><circle cx="302.63" cy="105.90" r="0.95"/><circle cx="302.63" cy="108.70" r="0.95"/><circle cx="305.05" cy="110.10" r="0.95"/><circle cx="307.47" cy="108.70" r="0.95"/><circle cx="307.47" cy="105.90" r="0.95"/><circle cx="314.15" cy="104.50" r="0.95"/><circle cx="311.73" cy="105.90" r="0.95"/><circle cx="311.73" cy="108.70" r="0.95"/><circle cx="314.15" cy="110.10" r="0.95"/><circle cx="316.57" cy="108.70" r="0.95"/><circle cx="316.57" cy="105.90" r="0.95"/><circle cx="345.25" cy="108.70" r="0.95"/><circle cx="342.83" cy="110.10" r="0.95"/><circle cx="342.83" cy="112.90" r="0.95"/><circle cx="345.25" cy="114.30" r="0.95"/><circle cx="347.67" cy="112.90" r="0.95"/><circle cx="347.67" cy="110.10" r="0.95"/><circle cx="354.35" cy="108.70" r="0.95"/><circle cx="351.93" cy="110.10" r="0.95"/><circle cx="351.93" cy="112.90" r="0.95"/><circle cx="354.35" cy="114.30" r="0.95"/><circle cx="356.77" cy="112.90" r="0.95"/><circle cx="356.77" cy="110.10" r="0.95"/><circle cx="385.55" cy="125.30" r="0.95"/><circle cx="383.13" cy="126.70" r="0.95"/><circle cx="383.13" cy="129.50" r="0.95"/><circle cx="385.55" cy="130.90" r="0.95"/><circle cx="387.97" cy="129.50" r="0.95"/><circle cx="387.97" cy="126.70" r="0.95"/><circle cx="394.65" cy="125.30" r="0.95"/><circle cx="392.23" cy="126.70" r="0.95"/><circle cx="392.23" cy="129.50" r="0.95"/><circle cx="394.65" cy="130.90" r="0.95"/><circle cx="397.07" cy="129.50" r="0.95"/><circle cx="397.07" cy="126.70" r="0.95"/><circle cx="622.55" cy="57.40" r="0.95"/><circle cx="620.13" cy="58.80" r="0.95"/><circle cx="620.13" cy="61.60" r="0.95"/><circle cx="622.55" cy="63.00" r="0.95"/><circle cx="624.97" cy="61.60" r="0.95"/><circle cx="624.97" cy="58.80" r="0.95"/><circle cx="631.65" cy="57.40" r="0.95"/><circle cx="629.23" cy="58.80" r="0.95"/><circle cx="629.23" cy="61.60" r="0.95"/><circle cx="631.65" cy="63.00" r="0.95"/><circle cx="634.07" cy="61.60" r="0.95"/><circle cx="634.07" cy="58.80" r="0.95"/><circle cx="640.75" cy="57.40" r="0.95"/><circle cx="638.33" cy="58.80" r="0.95"/><circle cx="638.33" cy="61.60" r="0.95"/><circle cx="640.75" cy="63.00" r="0.95"/><circle cx="643.17" cy="61.60" r="0.95"/><circle cx="643.17" cy="58.80" r="0.95"/><circle cx="663.25" cy="79.10" r="0.95"/><circle cx="660.83" cy="80.50" r="0.95"/><circle cx="660.83" cy="83.30" r="0.95"/><circle cx="663.25" cy="84.70" r="0.95"/><circle cx="665.67" cy="83.30" r="0.95"/><circle cx="665.67" cy="80.50" r="0.95"/><circle cx="672.35" cy="79.10" r="0.95"/><circle cx="669.93" cy="80.50" r="0.95"/><circle cx="669.93" cy="83.30" r="0.95"/><circle cx="672.35" cy="84.70" r="0.95"/><circle cx="674.77" cy="83.30" r="0.95"/><circle cx="674.77" cy="80.50" r="0.95"/><circle cx="681.45" cy="79.10" r="0.95"/><circle cx="679.03" cy="80.50" r="0.95"/><circle cx="679.03" cy="83.30" r="0.95"/><circle cx="681.45" cy="84.70" r="0.95"/><circle cx="683.87" cy="83.30" r="0.95"/><circle cx="683.87" cy="80.50" r="0.95"/><circle cx="702.55" cy="112.40" r="0.95"/><circle cx="700.13" cy="113.80" r="0.95"/><circle cx="700.13" cy="116.60" r="0.95"/><circle cx="702.55" cy="118.00" r="0.95"/><circle cx="704.97" cy="116.60" r="0.95"/><circle cx="704.97" cy="113.80" r="0.95"/><circle cx="744.25" cy="115.10" r="0.95"/><circle cx="741.83" cy="116.50" r="0.95"/><circle cx="741.83" cy="119.30" r="0.95"/><circle cx="744.25" cy="120.70" r="0.95"/><circle cx="746.67" cy="119.30" r="0.95"/><circle cx="746.67" cy="116.50" r="0.95"/><circle cx="783.15" cy="117.20" r="0.95"/><circle cx="780.73" cy="118.60" r="0.95"/><circle cx="780.73" cy="121.40" r="0.95"/><circle cx="783.15" cy="122.80" r="0.95"/><circle cx="785.57" cy="121.40" r="0.95"/><circle cx="785.57" cy="118.60" r="0.95"/><circle cx="824.45" cy="139.60" r="0.95"/><circle cx="822.03" cy="141.00" r="0.95"/><circle cx="822.03" cy="143.80" r="0.95"/><circle cx="824.45" cy="145.20" r="0.95"/><circle cx="826.87" cy="143.80" r="0.95"/><circle cx="826.87" cy="141.00" r="0.95"/><circle cx="1083.45" cy="68.40" r="0.95"/><circle cx="1081.03" cy="69.80" r="0.95"/><circle cx="1081.03" cy="72.60" r="0.95"/><circle cx="1083.45" cy="74.00" r="0.95"/><circle cx="1085.87" cy="72.60" r="0.95"/><circle cx="1085.87" cy="69.80" r="0.95"/><circle cx="1092.55" cy="68.40" r="0.95"/><circle cx="1090.13" cy="69.80" r="0.95"/><circle cx="1090.13" cy="72.60" r="0.95"/><circle cx="1092.55" cy="74.00" r="0.95"/><circle cx="1094.97" cy="72.60" r="0.95"/><circle cx="1094.97" cy="69.80" r="0.95"/><circle cx="1101.65" cy="68.40" r="0.95"/><circle cx="1099.23" cy="69.80" r="0.95"/><circle cx="1099.23" cy="72.60" r="0.95"/><circle cx="1101.65" cy="74.00" r="0.95"/><circle cx="1104.07" cy="72.60" r="0.95"/><circle cx="1104.07" cy="69.80" r="0.95"/><circle cx="1123.85" cy="90.20" r="0.95"/><circle cx="1121.43" cy="91.60" r="0.95"/><circle cx="1121.43" cy="94.40" r="0.95"/><circle cx="1123.85" cy="95.80" r="0.95"/><circle cx="1126.27" cy="94.40" r="0.95"/><circle cx="1126.27" cy="91.60" r="0.95"/><circle cx="1132.95" cy="90.20" r="0.95"/><circle cx="1130.53" cy="91.60" r="0.95"/><circle cx="1130.53" cy="94.40" r="0.95"/><circle cx="1132.95" cy="95.80" r="0.95"/><circle cx="1135.37" cy="94.40" r="0.95"/><circle cx="1135.37" cy="91.60" r="0.95"/><circle cx="1142.05" cy="90.20" r="0.95"/><circle cx="1139.63" cy="91.60" r="0.95"/><circle cx="1139.63" cy="94.40" r="0.95"/><circle cx="1142.05" cy="95.80" r="0.95"/><circle cx="1144.47" cy="94.40" r="0.95"/><circle cx="1144.47" cy="91.60" r="0.95"/><circle cx="1163.45" cy="120.60" r="0.95"/><circle cx="1161.03" cy="122.00" r="0.95"/><circle cx="1161.03" cy="124.80" r="0.95"/><circle cx="1163.45" cy="126.20" r="0.95"/><circle cx="1165.87" cy="124.80" r="0.95"/><circle cx="1165.87" cy="122.00" r="0.95"/><circle cx="1172.55" cy="120.60" r="0.95"/><circle cx="1170.13" cy="122.00" r="0.95"/><circle cx="1170.13" cy="124.80" r="0.95"/><circle cx="1172.55" cy="126.20" r="0.95"/><circle cx="1174.97" cy="124.80" r="0.95"/><circle cx="1174.97" cy="122.00" r="0.95"/><circle cx="1203.45" cy="121.70" r="0.95"/><circle cx="1201.03" cy="123.10" r="0.95"/><circle cx="1201.03" cy="125.90" r="0.95"/><circle cx="1203.45" cy="127.30" r="0.95"/><circle cx="1205.87" cy="125.90" r="0.95"/><circle cx="1205.87" cy="123.10" r="0.95"/><circle cx="1212.55" cy="121.70" r="0.95"/><circle cx="1210.13" cy="123.10" r="0.95"/><circle cx="1210.13" cy="125.90" r="0.95"/><circle cx="1212.55" cy="127.30" r="0.95"/><circle cx="1214.97" cy="125.90" r="0.95"/><circle cx="1214.97" cy="123.10" r="0.95"/><circle cx="1243.75" cy="116.60" r="0.95"/><circle cx="1241.33" cy="118.00" r="0.95"/><circle cx="1241.33" cy="120.80" r="0.95"/><circle cx="1243.75" cy="122.20" r="0.95"/><circle cx="1246.17" cy="120.80" r="0.95"/><circle cx="1246.17" cy="118.00" r="0.95"/><circle cx="1252.85" cy="116.60" r="0.95"/><circle cx="1250.43" cy="118.00" r="0.95"/><circle cx="1250.43" cy="120.80" r="0.95"/><circle cx="1252.85" cy="122.20" r="0.95"/><circle cx="1255.27" cy="120.80" r="0.95"/><circle cx="1255.27" cy="118.00" r="0.95"/><circle cx="1285.75" cy="149.40" r="0.95"/><circle cx="1283.33" cy="150.80" r="0.95"/><circle cx="1283.33" cy="153.60" r="0.95"/><circle cx="1285.75" cy="155.00" r="0.95"/><circle cx="1288.17" cy="153.60" r="0.95"/><circle cx="1288.17" cy="150.80" r="0.95"/><circle cx="180.35" cy="402.60" r="0.95"/><circle cx="177.93" cy="404.00" r="0.95"/><circle cx="177.93" cy="406.80" r="0.95"/><circle cx="180.35" cy="408.20" r="0.95"/><circle cx="182.77" cy="406.80" r="0.95"/><circle cx="182.77" cy="404.00" r="0.95"/><circle cx="189.45" cy="402.60" r="0.95"/><circle cx="187.03" cy="404.00" r="0.95"/><circle cx="187.03" cy="406.80" r="0.95"/><circle cx="189.45" cy="408.20" r="0.95"/><circle cx="191.87" cy="406.80" r="0.95"/><circle cx="191.87" cy="404.00" r="0.95"/><circle cx="198.55" cy="402.60" r="0.95"/><circle cx="196.13" cy="404.00" r="0.95"/><circle cx="196.13" cy="406.80" r="0.95"/><circle cx="198.55" cy="408.20" r="0.95"/><circle cx="200.97" cy="406.80" r="0.95"/><circle cx="200.97" cy="404.00" r="0.95"/><circle cx="221.05" cy="438.40" r="0.95"/><circle cx="218.63" cy="439.80" r="0.95"/><circle cx="218.63" cy="442.60" r="0.95"/><circle cx="221.05" cy="444.00" r="0.95"/><circle cx="223.47" cy="442.60" r="0.95"/><circle cx="223.47" cy="439.80" r="0.95"/><circle cx="230.15" cy="438.40" r="0.95"/><circle cx="227.73" cy="439.80" r="0.95"/><circle cx="227.73" cy="442.60" r="0.95"/><circle cx="230.15" cy="444.00" r="0.95"/><circle cx="232.57" cy="442.60" r="0.95"/><circle cx="232.57" cy="439.80" r="0.95"/><circle cx="239.25" cy="438.40" r="0.95"/><circle cx="236.83" cy="439.80" r="0.95"/><circle cx="236.83" cy="442.60" r="0.95"/><circle cx="239.25" cy="444.00" r="0.95"/><circle cx="241.67" cy="442.60" r="0.95"/><circle cx="241.67" cy="439.80" r="0.95"/><circle cx="256.75" cy="458.20" r="0.95"/><circle cx="254.33" cy="459.60" r="0.95"/><circle cx="254.33" cy="462.40" r="0.95"/><circle cx="256.75" cy="463.80" r="0.95"/><circle cx="259.17" cy="462.40" r="0.95"/><circle cx="259.17" cy="459.60" r="0.95"/><circle cx="265.85" cy="458.20" r="0.95"/><circle cx="263.43" cy="459.60" r="0.95"/><circle cx="263.43" cy="462.40" r="0.95"/><circle cx="265.85" cy="463.80" r="0.95"/><circle cx="268.27" cy="462.40" r="0.95"/><circle cx="268.27" cy="459.60" r="0.95"/><circle cx="274.95" cy="458.20" r="0.95"/><circle cx="272.53" cy="459.60" r="0.95"/><circle cx="272.53" cy="462.40" r="0.95"/><circle cx="274.95" cy="463.80" r="0.95"/><circle cx="277.37" cy="462.40" r="0.95"/><circle cx="277.37" cy="459.60" r="0.95"/><circle cx="295.75" cy="460.90" r="0.95"/><circle cx="293.33" cy="462.30" r="0.95"/><circle cx="293.33" cy="465.10" r="0.95"/><circle cx="295.75" cy="466.50" r="0.95"/><circle cx="298.17" cy="465.10" r="0.95"/><circle cx="298.17" cy="462.30" r="0.95"/><circle cx="304.85" cy="460.90" r="0.95"/><circle cx="302.43" cy="462.30" r="0.95"/><circle cx="302.43" cy="465.10" r="0.95"/><circle cx="304.85" cy="466.50" r="0.95"/><circle cx="307.27" cy="465.10" r="0.95"/><circle cx="307.27" cy="462.30" r="0.95"/><circle cx="313.95" cy="460.90" r="0.95"/><circle cx="311.53" cy="462.30" r="0.95"/><circle cx="311.53" cy="465.10" r="0.95"/><circle cx="313.95" cy="466.50" r="0.95"/><circle cx="316.37" cy="465.10" r="0.95"/><circle cx="316.37" cy="462.30" r="0.95"/><circle cx="339.15" cy="486.80" r="0.95"/><circle cx="336.73" cy="488.20" r="0.95"/><circle cx="336.73" cy="491.00" r="0.95"/><circle cx="339.15" cy="492.40" r="0.95"/><circle cx="341.57" cy="491.00" r="0.95"/><circle cx="341.57" cy="488.20" r="0.95"/><circle cx="348.25" cy="486.80" r="0.95"/><circle cx="345.83" cy="488.20" r="0.95"/><circle cx="345.83" cy="491.00" r="0.95"/><circle cx="348.25" cy="492.40" r="0.95"/><circle cx="350.67" cy="491.00" r="0.95"/><circle cx="350.67" cy="488.20" r="0.95"/><circle cx="383.95" cy="495.40" r="0.95"/><circle cx="381.53" cy="496.80" r="0.95"/><circle cx="381.53" cy="499.60" r="0.95"/><circle cx="383.95" cy="501.00" r="0.95"/><circle cx="386.37" cy="499.60" r="0.95"/><circle cx="386.37" cy="496.80" r="0.95"/><circle cx="623.45" cy="410.20" r="0.95"/><circle cx="621.03" cy="411.60" r="0.95"/><circle cx="621.03" cy="414.40" r="0.95"/><circle cx="623.45" cy="415.80" r="0.95"/><circle cx="625.87" cy="414.40" r="0.95"/><circle cx="625.87" cy="411.60" r="0.95"/><circle cx="632.55" cy="410.20" r="0.95"/><circle cx="630.13" cy="411.60" r="0.95"/><circle cx="630.13" cy="414.40" r="0.95"/><circle cx="632.55" cy="415.80" r="0.95"/><circle cx="634.97" cy="414.40" r="0.95"/><circle cx="634.97" cy="411.60" r="0.95"/><circle cx="641.65" cy="410.20" r="0.95"/><circle cx="639.23" cy="411.60" r="0.95"/><circle cx="639.23" cy="414.40" r="0.95"/><circle cx="641.65" cy="415.80" r="0.95"/><circle cx="644.07" cy="414.40" r="0.95"/><circle cx="644.07" cy="411.60" r="0.95"/><circle cx="664.15" cy="441.10" r="0.95"/><circle cx="661.73" cy="442.50" r="0.95"/><circle cx="661.73" cy="445.30" r="0.95"/><circle cx="664.15" cy="446.70" r="0.95"/><circle cx="666.57" cy="445.30" r="0.95"/><circle cx="666.57" cy="442.50" r="0.95"/><circle cx="673.25" cy="441.10" r="0.95"/><circle cx="670.83" cy="442.50" r="0.95"/><circle cx="670.83" cy="445.30" r="0.95"/><circle cx="673.25" cy="446.70" r="0.95"/><circle cx="675.67" cy="445.30" r="0.95"/><circle cx="675.67" cy="442.50" r="0.95"/><circle cx="682.35" cy="441.10" r="0.95"/><circle cx="679.93" cy="442.50" r="0.95"/><circle cx="679.93" cy="445.30" r="0.95"/><circle cx="682.35" cy="446.70" r="0.95"/><circle cx="684.77" cy="445.30" r="0.95"/><circle cx="684.77" cy="442.50" r="0.95"/><circle cx="702.25" cy="462.40" r="0.95"/><circle cx="699.83" cy="463.80" r="0.95"/><circle cx="699.83" cy="466.60" r="0.95"/><circle cx="702.25" cy="468.00" r="0.95"/><circle cx="704.67" cy="466.60" r="0.95"/><circle cx="704.67" cy="463.80" r="0.95"/><circle cx="711.35" cy="462.40" r="0.95"/><circle cx="708.93" cy="463.80" r="0.95"/><circle cx="708.93" cy="466.60" r="0.95"/><circle cx="711.35" cy="468.00" r="0.95"/><circle cx="713.77" cy="466.60" r="0.95"/><circle cx="713.77" cy="463.80" r="0.95"/><circle cx="720.45" cy="462.40" r="0.95"/><circle cx="718.03" cy="463.80" r="0.95"/><circle cx="718.03" cy="466.60" r="0.95"/><circle cx="720.45" cy="468.00" r="0.95"/><circle cx="722.87" cy="466.60" r="0.95"/><circle cx="722.87" cy="463.80" r="0.95"/><circle cx="737.55" cy="471.40" r="0.95"/><circle cx="735.13" cy="472.80" r="0.95"/><circle cx="735.13" cy="475.60" r="0.95"/><circle cx="737.55" cy="477.00" r="0.95"/><circle cx="739.97" cy="475.60" r="0.95"/><circle cx="739.97" cy="472.80" r="0.95"/><circle cx="746.65" cy="471.40" r="0.95"/><circle cx="744.23" cy="472.80" r="0.95"/><circle cx="744.23" cy="475.60" r="0.95"/><circle cx="746.65" cy="477.00" r="0.95"/><circle cx="749.07" cy="475.60" r="0.95"/><circle cx="749.07" cy="472.80" r="0.95"/><circle cx="755.75" cy="471.40" r="0.95"/><circle cx="753.33" cy="472.80" r="0.95"/><circle cx="753.33" cy="475.60" r="0.95"/><circle cx="755.75" cy="477.00" r="0.95"/><circle cx="758.17" cy="475.60" r="0.95"/><circle cx="758.17" cy="472.80" r="0.95"/><circle cx="781.85" cy="491.90" r="0.95"/><circle cx="779.43" cy="493.30" r="0.95"/><circle cx="779.43" cy="496.10" r="0.95"/><circle cx="781.85" cy="497.50" r="0.95"/><circle cx="784.27" cy="496.10" r="0.95"/><circle cx="784.27" cy="493.30" r="0.95"/><circle cx="790.95" cy="491.90" r="0.95"/><circle cx="788.53" cy="493.30" r="0.95"/><circle cx="788.53" cy="496.10" r="0.95"/><circle cx="790.95" cy="497.50" r="0.95"/><circle cx="793.37" cy="496.10" r="0.95"/><circle cx="793.37" cy="493.30" r="0.95"/><circle cx="827.75" cy="506.30" r="0.95"/><circle cx="825.33" cy="507.70" r="0.95"/><circle cx="825.33" cy="510.50" r="0.95"/><circle cx="827.75" cy="511.90" r="0.95"/><circle cx="830.17" cy="510.50" r="0.95"/><circle cx="830.17" cy="507.70" r="0.95"/><circle cx="1082.85" cy="401.30" r="0.95"/><circle cx="1080.43" cy="402.70" r="0.95"/><circle cx="1080.43" cy="405.50" r="0.95"/><circle cx="1082.85" cy="406.90" r="0.95"/><circle cx="1085.27" cy="405.50" r="0.95"/><circle cx="1085.27" cy="402.70" r="0.95"/><circle cx="1091.95" cy="401.30" r="0.95"/><circle cx="1089.53" cy="402.70" r="0.95"/><circle cx="1089.53" cy="405.50" r="0.95"/><circle cx="1091.95" cy="406.90" r="0.95"/><circle cx="1094.37" cy="405.50" r="0.95"/><circle cx="1094.37" cy="402.70" r="0.95"/><circle cx="1101.05" cy="401.30" r="0.95"/><circle cx="1098.63" cy="402.70" r="0.95"/><circle cx="1098.63" cy="405.50" r="0.95"/><circle cx="1101.05" cy="406.90" r="0.95"/><circle cx="1103.47" cy="405.50" r="0.95"/><circle cx="1103.47" cy="402.70" r="0.95"/><circle cx="1127.75" cy="437.00" r="0.95"/><circle cx="1125.33" cy="438.40" r="0.95"/><circle cx="1125.33" cy="441.20" r="0.95"/><circle cx="1127.75" cy="442.60" r="0.95"/><circle cx="1130.17" cy="441.20" r="0.95"/><circle cx="1130.17" cy="438.40" r="0.95"/><circle cx="1136.85" cy="437.00" r="0.95"/><circle cx="1134.43" cy="438.40" r="0.95"/><circle cx="1134.43" cy="441.20" r="0.95"/><circle cx="1136.85" cy="442.60" r="0.95"/><circle cx="1139.27" cy="441.20" r="0.95"/><circle cx="1139.27" cy="438.40" r="0.95"/><circle cx="1167.95" cy="433.80" r="0.95"/><circle cx="1165.53" cy="435.20" r="0.95"/><circle cx="1165.53" cy="438.00" r="0.95"/><circle cx="1167.95" cy="439.40" r="0.95"/><circle cx="1170.37" cy="438.00" r="0.95"/><circle cx="1170.37" cy="435.20" r="0.95"/><circle cx="1177.05" cy="433.80" r="0.95"/><circle cx="1174.63" cy="435.20" r="0.95"/><circle cx="1174.63" cy="438.00" r="0.95"/><circle cx="1177.05" cy="439.40" r="0.95"/><circle cx="1179.47" cy="438.00" r="0.95"/><circle cx="1179.47" cy="435.20" r="0.95"/><circle cx="1204.25" cy="465.40" r="0.95"/><circle cx="1201.83" cy="466.80" r="0.95"/><circle cx="1201.83" cy="469.60" r="0.95"/><circle cx="1204.25" cy="471.00" r="0.95"/><circle cx="1206.67" cy="469.60" r="0.95"/><circle cx="1206.67" cy="466.80" r="0.95"/><circle cx="1213.35" cy="465.40" r="0.95"/><circle cx="1210.93" cy="466.80" r="0.95"/><circle cx="1210.93" cy="469.60" r="0.95"/><circle cx="1213.35" cy="471.00" r="0.95"/><circle cx="1215.77" cy="469.60" r="0.95"/><circle cx="1215.77" cy="466.80" r="0.95"/><circle cx="1250.05" cy="475.90" r="0.95"/><circle cx="1247.63" cy="477.30" r="0.95"/><circle cx="1247.63" cy="480.10" r="0.95"/><circle cx="1250.05" cy="481.50" r="0.95"/><circle cx="1252.47" cy="480.10" r="0.95"/><circle cx="1252.47" cy="477.30" r="0.95"/></g>
</svg>
</body></html>
